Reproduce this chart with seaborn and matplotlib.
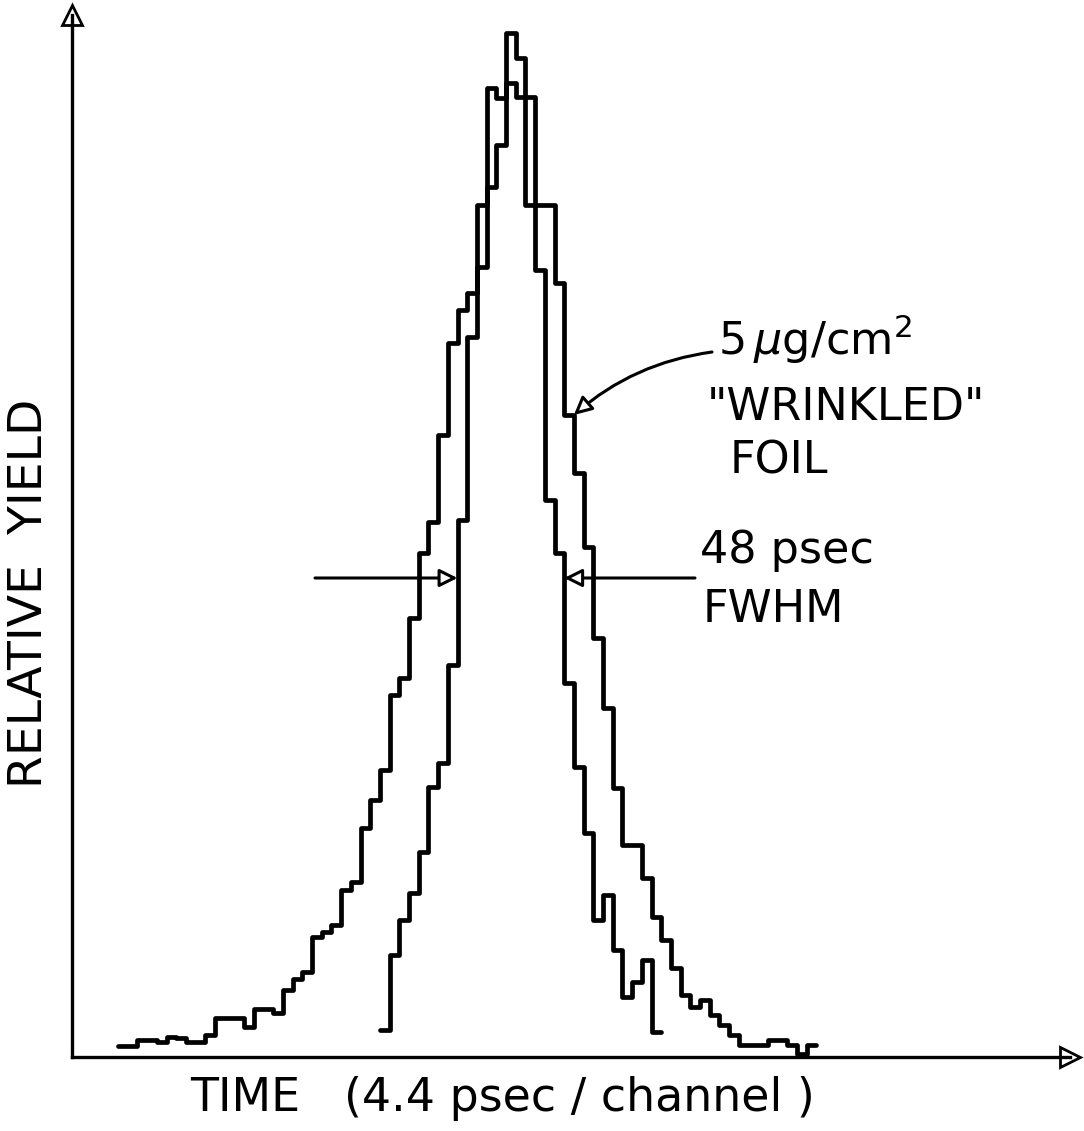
import numpy as np
import pandas as pd
import matplotlib
matplotlib.use("Agg")
import matplotlib.pyplot as plt
import seaborn as sns

# ---------------------------------------------------------------------------
# Data (counts per 4.4 psec channel)
# ---------------------------------------------------------------------------
wrinkled_first_channel = 0
wrinkled_counts = [11, 11, 17, 17, 15, 20, 19, 15, 15, 22,
                   39, 39, 39, 30, 48, 48, 44, 67, 78, 85,
                   120, 125, 132, 167, 175, 229, 257, 287, 362, 379,
                   439, 504, 535, 622, 714, 747, 764, 852, 969, 959,
                   974, 960, 960, 852, 852, 774, 642, 584, 510, 419,
                   349, 269, 212, 212, 179, 140, 117, 89, 62, 50,
                   57, 42, 32, 22, 12, 12, 12, 17, 17, 12,
                   3, 12]

flat_first_channel = 27
flat_counts = [27, 102, 137, 164, 205, 270, 294, 392, 537, 720,
               790, 870, 912, 1024, 999, 852, 787, 557, 504, 374,
               290, 224, 137, 162, 107, 60, 75, 97, 25]

fwhm_level = 479          # height of the FWHM arrows
label_channel = 46        # channel the "wrinkled foil" arrow points at

# ---------------------------------------------------------------------------
# Layout (pixels of the 1084 x 1131 picture)
# ---------------------------------------------------------------------------
W, H = 1084, 1131
AX_LEFT, AX_RIGHT = 72, 1070
AX_BOTTOM, AX_TOP = 1057, 15
CH0_PX, CH_PX = 122.85, 9.7     # pixel centre of channel 0, pixels per channel


def px(x, y):
    return x / W, 1 - y / H


def chan(xpix):
    return (xpix - CH0_PX) / CH_PX


sns.set_theme(style="white")
plt.rcParams["font.family"] = ["DejaVu Sans"]
plt.rcParams["mathtext.fontset"] = "dejavusans"
plt.rcParams["text.color"] = "black"

fig = plt.figure(figsize=(W / 100, H / 100), dpi=100)
ax = fig.add_axes([AX_LEFT / W, 1 - AX_BOTTOM / H,
                   (AX_RIGHT - AX_LEFT) / W, (AX_BOTTOM - AX_TOP) / H])

wrinkled = pd.DataFrame({
    "channel": wrinkled_first_channel + np.arange(len(wrinkled_counts)),
    "counts": wrinkled_counts,
})
flat = pd.DataFrame({
    "channel": flat_first_channel + np.arange(len(flat_counts)),
    "counts": flat_counts,
})

for df in (wrinkled, flat):
    sns.histplot(data=df, x="channel", weights="counts", discrete=True,
                 element="step", fill=False, color="black", linewidth=3.4,
                 ax=ax)

ax.set_xlim(chan(AX_LEFT), chan(AX_RIGHT))
ax.set_ylim(0, AX_BOTTOM - AX_TOP)
ax.set_xticks([])
ax.set_yticks([])
ax.set_xlabel("")
ax.set_ylabel("")
for side in ("top", "right"):
    ax.spines[side].set_visible(False)
for side in ("left", "bottom"):
    ax.spines[side].set_linewidth(2.4)
    ax.spines[side].set_color("black")

# open arrow heads on the axes
ax.plot(1, 0, marker=">", ms=15, mfc="white", mec="black", mew=2,
        transform=ax.transAxes, clip_on=False)
ax.plot(0, 1, marker="^", ms=15, mfc="white", mec="black", mew=2,
        transform=ax.transAxes, clip_on=False)

# FWHM arrows point at the crossings of the narrow spectrum
above = flat["channel"][flat["counts"] > fwhm_level]
left_edge = above.min() - 0.5
right_edge = above.max() + 0.5
arrow_kw = dict(arrowstyle="-|>,head_length=0.9,head_width=0.45",
                fc="white", ec="black", lw=2.2, shrinkA=0, shrinkB=0)
ax.annotate("", xy=(left_edge, fwhm_level), xytext=(chan(315), fwhm_level),
            arrowprops=arrow_kw)
ax.annotate("", xy=(right_edge, fwhm_level), xytext=(chan(695), fwhm_level),
            arrowprops=arrow_kw)

# curved arrow to the wrinkled foil spectrum
tip_y = wrinkled["counts"][wrinkled["channel"] == label_channel].iloc[0]
ax.annotate("", xy=(label_channel + 0.5, tip_y),
            xytext=(chan(712), AX_BOTTOM - 352),
            arrowprops=dict(arrowstyle="-|>,head_length=0.9,head_width=0.45",
                            connectionstyle="arc3,rad=0.15",
                            fc="white", ec="black", lw=2.2,
                            shrinkA=0, shrinkB=0))

text_kw = dict(fontsize=32, color="black", va="baseline", ha="left")
fig.text(*px(718, 355), r"5$\,\mu$g/cm$^{2}$", **text_kw)
fig.text(*px(707, 420), '"WRINKLED"', **text_kw)
fig.text(*px(730, 473), "FOIL", **text_kw)
fig.text(*px(700, 563), "48 psec", **text_kw)
fig.text(*px(703, 622), "FWHM", **text_kw)

fig.text(*px(503, 1111), "TIME   (4.4 psec / channel )", fontsize=33,
         color="black", ha="center", va="baseline")
fig.text(*px(30, 593), "RELATIVE  YIELD", fontsize=34, rotation=90,
         color="black", ha="center", va="center")

fig.savefig("out.png", dpi=100)
